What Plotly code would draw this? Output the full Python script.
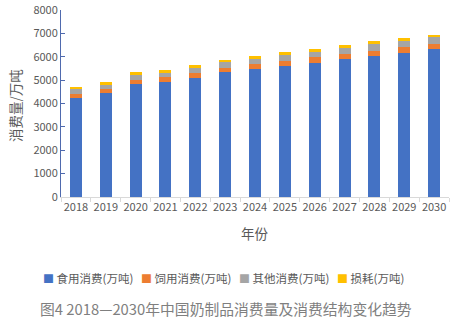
import plotly.graph_objects as go

years = ["2018", "2019", "2020", "2021", "2022", "2023", "2024", "2025", "2026", "2027", "2028", "2029", "2030"]
food = [4220, 4430, 4830, 4915, 5100, 5355, 5470, 5610, 5740, 5900, 6040, 6170, 6340]
feed = [180, 185, 170, 200, 210, 170, 215, 215, 230, 210, 210, 250, 210]
other = [200, 215, 200, 225, 200, 230, 225, 245, 240, 270, 290, 260, 275]
loss = [115, 85, 155, 85, 140, 100, 115, 130, 130, 130, 140, 130, 110]

names = ["食用消费(万吨)", "饲用消费(万吨)", "其他消费(万吨)", "损耗(万吨)"]
colors = ["#4472C4", "#ED7D31", "#A5A5A5", "#FFC000"]
series = [food, feed, other, loss]

font_family = "Noto Sans CJK SC, Microsoft YaHei, sans-serif"
text_color = "#595959"

# plot area in pixels
L, R, T, B = 61, 449, 10, 197
W, H = 466, 327


def px(x):
    return (x - L) / (R - L)


def py(y):
    return (B - y) / (B - T)


legend_ids = ["legend", "legend2", "legend3", "legend4"]
marker_left = [44, 142, 240, 338]

fig = go.Figure()
for name, vals, col in zip(names, series, colors):
    fig.add_trace(go.Bar(x=years, y=vals, name=name, showlegend=False,
                         marker=dict(color=col, line=dict(width=0))))

# legend entries: coloured square drawn as text, so it sits close to the label
for name, col, lid in zip(names, colors, legend_ids):
    fig.add_trace(go.Scatter(
        x=[None], y=[None], mode="markers", legend=lid, showlegend=True,
        marker=dict(color="rgba(0,0,0,0)", opacity=0, size=0.1, line=dict(width=0)),
        name=f"<span style='color:{col};font-size:11px'>■</span> {name}",
        hoverinfo="skip",
    ))

legend_layout = {}
for lid, lx in zip(legend_ids, marker_left):
    legend_layout[lid] = dict(
        orientation="h", x=(lx - 41) / W, xanchor="left", xref="container",
        y=(H - 278) / H, yref="container", yanchor="middle",
        font=dict(size=11.5, color=text_color), itemwidth=30,
        bgcolor="rgba(0,0,0,0)",
    )

fig.update_layout(
    barmode="stack",
    bargap=0.6,
    width=W, height=H,
    margin=dict(l=L, r=W - R, t=T, b=H - B, autoexpand=False),
    paper_bgcolor="white", plot_bgcolor="white",
    font=dict(family=font_family, size=11, color=text_color),
    showlegend=True,
    xaxis=dict(
        type="category", range=[-0.5, 12.5],
        showline=True, linecolor="#D9D9D9", linewidth=1,
        ticks="outside", ticklen=4, tickcolor="#D9D9D9",
        tickson="boundaries", tickangle=0,
        tickfont=dict(size=11, color=text_color),
        showgrid=False,
    ),
    yaxis=dict(
        range=[0, 8000], dtick=1000,
        showline=True, linecolor="#4F6AAE", linewidth=1,
        ticks="inside", ticklen=4, tickcolor="#4F6AAE",
        tickfont=dict(size=11, color=text_color),
        showgrid=False, zeroline=False,
    ),
    annotations=[
        dict(text="消费量/万吨", x=px(15), y=py(106), xref="paper", yref="paper",
             xanchor="center", yanchor="middle",
             showarrow=False, textangle=-90, font=dict(size=13.5, color=text_color)),
        dict(text="年份", x=px(255), y=py(233), xref="paper", yref="paper",
             xanchor="center", yanchor="middle",
             showarrow=False, font=dict(size=13.5, color=text_color)),
        dict(text="图4 2018—2030年中国奶制品消费量及消费结构变化趋势", x=px(226), y=py(308),
             xref="paper", yref="paper", xanchor="center", yanchor="middle",
             showarrow=False, font=dict(size=14.8, color="#7F7F7F")),
    ],
    **legend_layout,
)

fig.write_html("out.html")
